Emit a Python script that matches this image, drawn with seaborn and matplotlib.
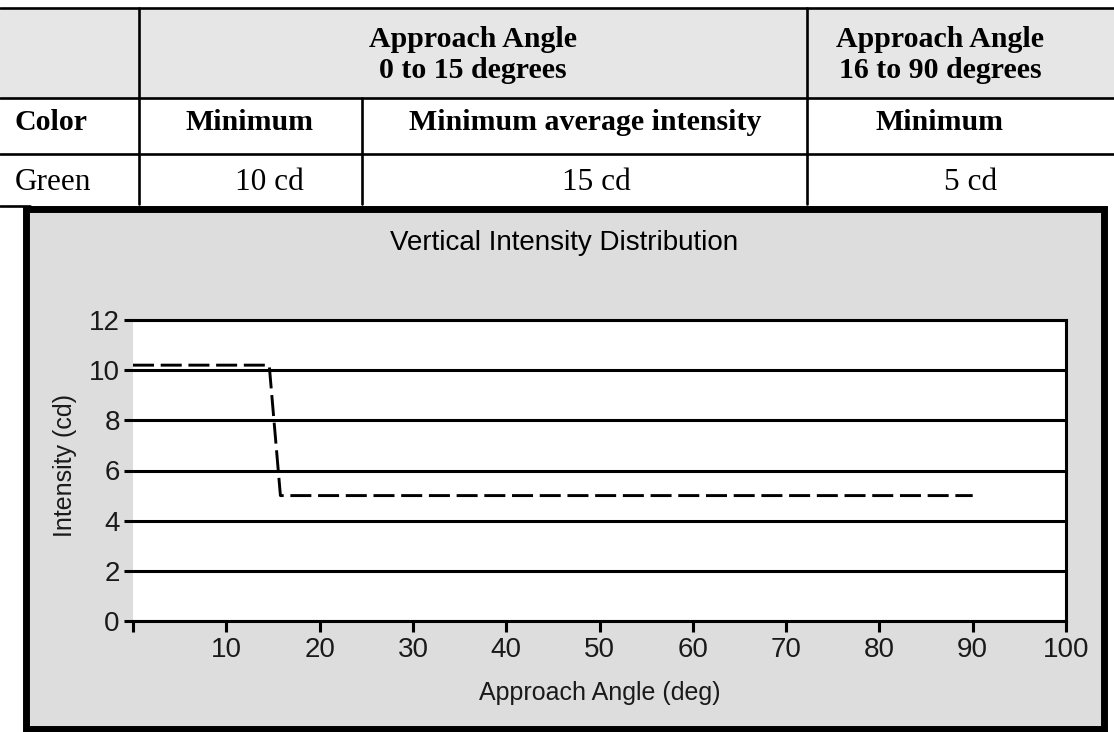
# Tabla de intensidad + grafico de distribucion vertical

import matplotlib
matplotlib.use('Agg')
import matplotlib.pyplot as plt
import seaborn as sns
from matplotlib.patches import Rectangle

# datos del grafico
angle = [0, 14.6, 15.8, 90]
intensity = [10.2, 10.2, 5.0, 5.0]
x_ticks = [0, 10, 20, 30, 40, 50, 60, 70, 80, 90, 100]
x_tick_labels = ['', '10', '20', '30', '40', '50', '60', '70', '80', '90', '100']
y_ticks = [0, 2, 4, 6, 8, 10, 12]

# textos de la tabla
header_top = ['Approach Angle', 'Approach Angle']
header_bottom = ['0 to 15 degrees', '16 to 90 degrees']
col_names = ['Color', 'Minimum', 'Minimum average intensity', 'Minimum']
row_values = ['Green', '10 cd', '15 cd', '5 cd']

W, H = 1114, 732
sns.set_style('white')
plt.rcParams['font.family'] = ['Liberation Sans', 'DejaVu Sans']
serif = ['Liberation Serif', 'DejaVu Serif']

fig = plt.figure(figsize=(W / 100, H / 100), dpi=100)
fig.patch.set_facecolor('white')

# capa en pixeles para la tabla y el marco
bg = fig.add_axes([0, 0, 1, 1])
bg.set_xlim(0, W)
bg.set_ylim(H, 0)
bg.axis('off')

# tabla
bg.add_patch(Rectangle((0, 8), W, 90, facecolor='#e6e6e6', edgecolor='none'))
lw_t = 1.9
bg.plot([0, W], [8, 8], color='black', lw=lw_t)
bg.plot([0, W], [98, 98], color='black', lw=lw_t)
bg.plot([0, W], [154, 154], color='black', lw=lw_t)
bg.plot([0, 30], [206, 206], color='black', lw=lw_t)
bg.plot([139, 139], [8, 204], color='black', lw=lw_t)
bg.plot([362, 362], [98, 204], color='black', lw=lw_t)
bg.plot([807, 807], [8, 204], color='black', lw=lw_t)

fs_b = 21.5
fs_r = 22.5
for xc, top, bot in zip([473, 940], header_top, header_bottom):
    bg.text(xc, 47, top, ha='center', va='baseline', fontsize=fs_b,
            fontweight='bold', family=serif, color='black')
    bg.text(xc, 78, bot, ha='center', va='baseline', fontsize=fs_b,
            fontweight='bold', family=serif, color='black')

name_x = [15, 250, 585, 940]
value_x = [15, 269, 596, 971]
for i in range(4):
    ha = 'left' if i == 0 else 'center'
    bg.text(name_x[i], 130, col_names[i], ha=ha, va='baseline', fontsize=fs_b,
            fontweight='bold', family=serif, color='black')
    bg.text(value_x[i], 190, row_values[i], ha=ha, va='baseline', fontsize=fs_r,
            family=serif, color='black')

# marco gris del grafico
bg.add_patch(Rectangle((25.5, 208.5), 1078, 520.5, facecolor='#dddddd',
                       edgecolor='black', lw=5))
bg.text(564, 243, 'Vertical Intensity Distribution', ha='center', va='center',
        fontsize=20, color='black')

# grafico
ax = fig.add_axes([133 / W, 1 - 621 / H, 933 / W, 301 / H])
ax.set_facecolor('white')
sns.lineplot(x=angle, y=intensity, ax=ax, color='black', lw=2.1)
ax.lines[0].set_linestyle((0, (7.2, 2.3)))

ax.set_xlim(0, 100)
ax.set_ylim(0, 12)
ax.set_xticks(x_ticks)
ax.set_xticklabels(x_tick_labels)
ax.set_yticks(y_ticks)

ax.yaxis.grid(True, color='black', lw=2.2)
ax.xaxis.grid(False)
ax.set_axisbelow(True)
for side in ['top', 'right', 'bottom']:
    ax.spines[side].set_visible(True)
    ax.spines[side].set_color('black')
    ax.spines[side].set_linewidth(2.2)
ax.spines['left'].set_visible(False)

ax.tick_params(axis='x', direction='out', length=8, width=2.2, labelsize=20,
               pad=3.5, colors='black', labelcolor='#1a1a1a', bottom=True)
ax.tick_params(axis='y', direction='out', length=6.5, width=2.2, labelsize=20,
               pad=3, colors='black', labelcolor='#1a1a1a', left=True)

ax.set_xlabel('Approach Angle (deg)', fontsize=18, va='center', color='#1a1a1a')
ax.xaxis.set_label_coords(0.5, -0.239)
ax.set_ylabel('Intensity (cd)', fontsize=18, va='center', color='#1a1a1a')
ax.yaxis.set_label_coords(-0.0729, 0.518)

plt.savefig('out.png', dpi=100)
